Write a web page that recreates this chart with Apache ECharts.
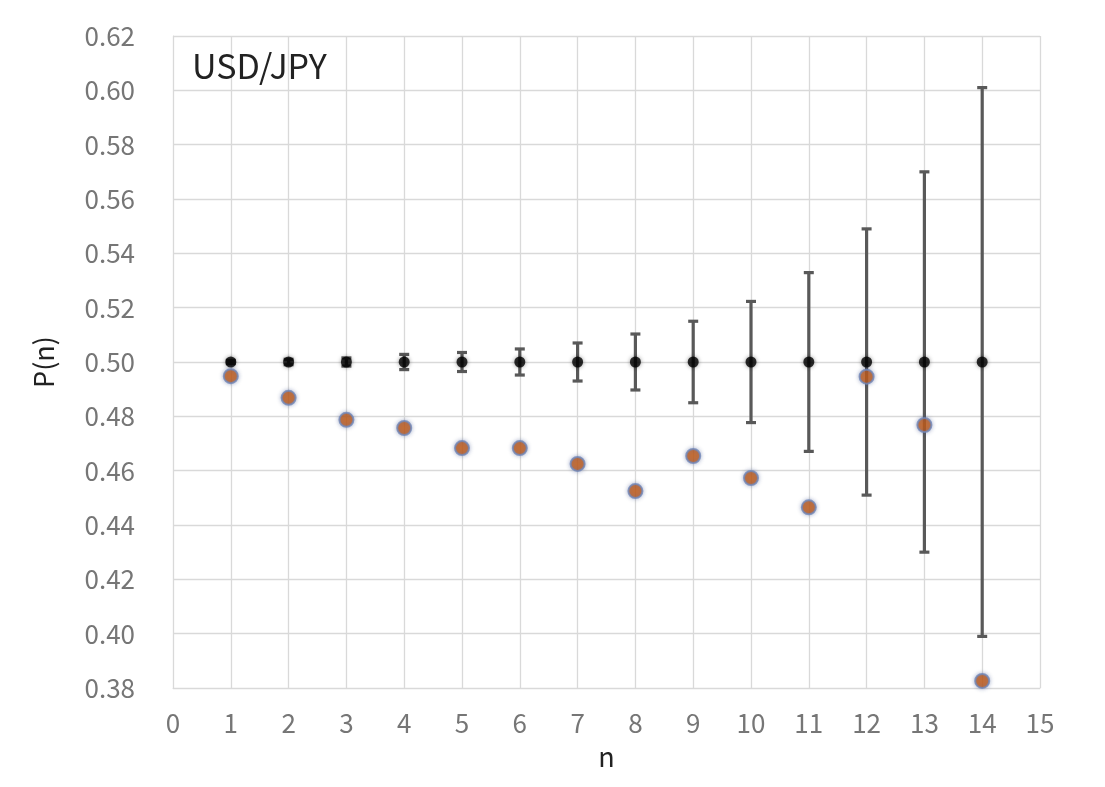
<!DOCTYPE html>
<html><head><meta charset="utf-8">
<script src="https://cdn.jsdelivr.net/npm/echarts@6/dist/echarts.min.js"></script>
<style>html,body{margin:0;padding:0;background:#fff}#c{width:1105px;height:787px}</style>
</head><body><div id="c"></div>
<script>
const nValues = [1,2,3,4,5,6,7,8,9,10,11,12,13,14];
const expected = [0.5,0.5,0.5,0.5,0.5,0.5,0.5,0.5,0.5,0.5,0.5,0.5,0.5,0.5];
const errHalf = [0.0006,0.001,0.0015,0.0028,0.0035,0.0048,0.007,0.0103,0.015,0.0223,0.0329,0.049,0.070,0.101];
const observed = [0.4948,0.4868,0.4787,0.4757,0.4683,0.4683,0.4625,0.4525,0.4654,0.4573,0.4465,0.4946,0.4768,0.3826];
const title = 'USD/JPY';
const xName = 'n';
const yName = 'P(n)';

const font = '"Noto Sans CJK JP", "Noto Sans", sans-serif';
const chart = echarts.init(document.getElementById('c'));
const errData = nValues.map((n,i)=>[n, expected[i]-errHalf[i], expected[i]+errHalf[i]]);
chart.setOption({
  animation:false,
  backgroundColor:'#fff',
  title:{text:title,left:187,top:44,textStyle:{fontFamily:font,fontSize:34,fontWeight:'normal',color:'#222'}},
  grid:{left:173,right:65,top:36,bottom:99},
  xAxis:{type:'value',min:0,max:15,interval:1,
    name:xName,nameLocation:'middle',nameGap:55,nameTextStyle:{fontFamily:font,fontSize:27,color:'#222'},
    axisLine:{show:true,lineStyle:{color:'#d9d9d9'}},axisTick:{show:false},
    axisLabel:{fontFamily:font,fontSize:26,color:'#767676',margin:22},
    splitLine:{show:true,lineStyle:{color:'#d9d9d9',width:1.3}}},
  yAxis:{type:'value',min:0.38,max:0.62,interval:0.02,
    name:yName,nameLocation:'middle',nameGap:116,nameRotate:90,nameTextStyle:{fontFamily:font,fontSize:27,color:'#222'},
    axisLine:{show:true,lineStyle:{color:'#d9d9d9'}},axisTick:{show:false},
    axisLabel:{fontFamily:font,fontSize:26,color:'#767676',margin:38,formatter:v=>v.toFixed(2)},
    splitLine:{show:true,lineStyle:{color:'#d9d9d9',width:1.3}}},
  series:[
    {type:'custom',z:3,data:errData,renderItem:function(params,api){
      const x=api.value(0);
      const lo=api.coord([x,api.value(1)]);
      const hi=api.coord([x,api.value(2)]);
      const cw=5;
      const st={stroke:'#595959',lineWidth:3.2};
      return {type:'group',children:[
        {type:'line',shape:{x1:lo[0],y1:lo[1],x2:hi[0],y2:hi[1]},style:st},
        {type:'line',shape:{x1:lo[0]-cw,y1:lo[1],x2:lo[0]+cw,y2:lo[1]},style:st},
        {type:'line',shape:{x1:hi[0]-cw,y1:hi[1],x2:hi[0]+cw,y2:hi[1]},style:st}
      ]};
    }},
    {type:'scatter',z:4,data:nValues.map((n,i)=>[n,expected[i]]),symbolSize:11,
      itemStyle:{color:'#000',shadowBlur:4,shadowColor:'rgba(0,0,0,0.5)'}},
    {type:'scatter',z:5,data:nValues.map((n,i)=>[n,observed[i]]),symbolSize:14,
      itemStyle:{color:'#C55A11',borderColor:'#6F86B8',borderWidth:2,shadowBlur:4,shadowColor:'rgba(60,80,140,0.45)'}}
  ]
});
</script></body></html>
